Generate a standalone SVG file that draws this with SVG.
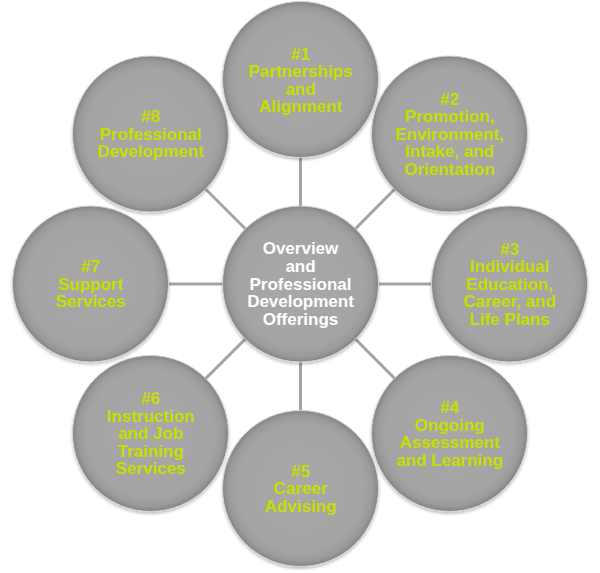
<svg xmlns="http://www.w3.org/2000/svg" width="600" height="573" viewBox="0 0 600 573">
<defs>
<radialGradient id="g" cx="50%" cy="50%" r="50%">
<stop offset="0" stop-color="#a8a8a8"/>
<stop offset="0.82" stop-color="#a4a4a4"/>
<stop offset="0.93" stop-color="#9a9a9a"/>
<stop offset="1" stop-color="#858585"/>
</radialGradient>
<filter id="sh" x="-10%" y="-10%" width="120%" height="125%">
<feGaussianBlur in="SourceAlpha" stdDeviation="1.5"/>
<feOffset dy="2" result="b"/>
<feComponentTransfer><feFuncA type="linear" slope="0.25"/></feComponentTransfer>
<feMerge><feMergeNode/><feMergeNode in="SourceGraphic"/></feMerge>
</filter>
</defs>
<style>
.c{fill:url(#g);stroke:#d4d4d4;stroke-width:1;filter:url(#sh)}
.t{font-family:"Liberation Sans",Arial,sans-serif;font-weight:bold;font-size:17px;fill:#c6df00;text-anchor:middle}
.w{fill:#ffffff}
.l{stroke:#a3a3a3;stroke-width:3;fill:none}
</style>
<g id="connectors">
<line class="l" x1="300.5" y1="284" x2="300.5" y2="79.5"/>
<line class="l" x1="300.5" y1="284" x2="449.5" y2="134"/>
<line class="l" x1="300.5" y1="284" x2="509.5" y2="284"/>
<line class="l" x1="300.5" y1="284" x2="449.5" y2="433.5"/>
<line class="l" x1="300.5" y1="284" x2="300.5" y2="488.5"/>
<line class="l" x1="300.5" y1="284" x2="150.5" y2="433.5"/>
<line class="l" x1="300.5" y1="284" x2="90.5" y2="284"/>
<line class="l" x1="300.5" y1="284" x2="150.5" y2="134"/>
</g>
<g id="center">
<circle class="c" cx="300.5" cy="284" r="78"/>
<text class="t w"><tspan x="300.5" y="253.5">Overview</tspan><tspan x="300.5" y="271.5">and</tspan><tspan x="300.5" y="289.5">Professional</tspan><tspan x="300.5" y="307">Development</tspan><tspan x="300.5" y="324.5">Offerings</tspan></text>
</g>
<g id="n1">
<circle class="c" cx="300.5" cy="79.5" r="78"/>
<text class="t"><tspan x="300.5" y="59.5">#1</tspan><tspan x="300.5" y="77">Partnerships</tspan><tspan x="300.5" y="94.5">and</tspan><tspan x="300.5" y="112">Alignment</tspan></text>
</g>
<g id="n2">
<circle class="c" cx="449.5" cy="134" r="78"/>
<text class="t"><tspan x="449.5" y="104.5">#2</tspan><tspan x="449.5" y="122">Promotion,</tspan><tspan x="449.5" y="139.5">Environment,</tspan><tspan x="449.5" y="157">Intake, and</tspan><tspan x="449.5" y="174.5">Orientation</tspan></text>
</g>
<g id="n3">
<circle class="c" cx="509.5" cy="284" r="78"/>
<text class="t"><tspan x="509.5" y="254.5">#3</tspan><tspan x="509.5" y="272">Individual</tspan><tspan x="509.5" y="289.5">Education,</tspan><tspan x="509.5" y="307">Career, and</tspan><tspan x="509.5" y="324.5">Life Plans</tspan></text>
</g>
<g id="n4">
<circle class="c" cx="449.5" cy="433.5" r="78"/>
<text class="t"><tspan x="449.5" y="413">#4</tspan><tspan x="449.5" y="430.5">Ongoing</tspan><tspan x="449.5" y="448">Assessment</tspan><tspan x="449.5" y="465.5">and Learning</tspan></text>
</g>
<g id="n5">
<circle class="c" cx="300.5" cy="488.5" r="78"/>
<text class="t"><tspan x="300.5" y="476.5">#5</tspan><tspan x="300.5" y="494">Career</tspan><tspan x="300.5" y="511.5">Advising</tspan></text>
</g>
<g id="n6">
<circle class="c" cx="150.5" cy="433.5" r="78"/>
<text class="t"><tspan x="150.5" y="404">#6</tspan><tspan x="150.5" y="421.5">Instruction</tspan><tspan x="150.5" y="439">and Job</tspan><tspan x="150.5" y="456.5">Training</tspan><tspan x="150.5" y="474">Services</tspan></text>
</g>
<g id="n7">
<circle class="c" cx="90.5" cy="284" r="78"/>
<text class="t"><tspan x="90.5" y="272">#7</tspan><tspan x="90.5" y="289.5">Support</tspan><tspan x="90.5" y="307">Services</tspan></text>
</g>
<g id="n8">
<circle class="c" cx="150.5" cy="134" r="78"/>
<text class="t"><tspan x="150.5" y="122">#8</tspan><tspan x="150.5" y="139.5">Professional</tspan><tspan x="150.5" y="157">Development</tspan></text>
</g>
</svg>
